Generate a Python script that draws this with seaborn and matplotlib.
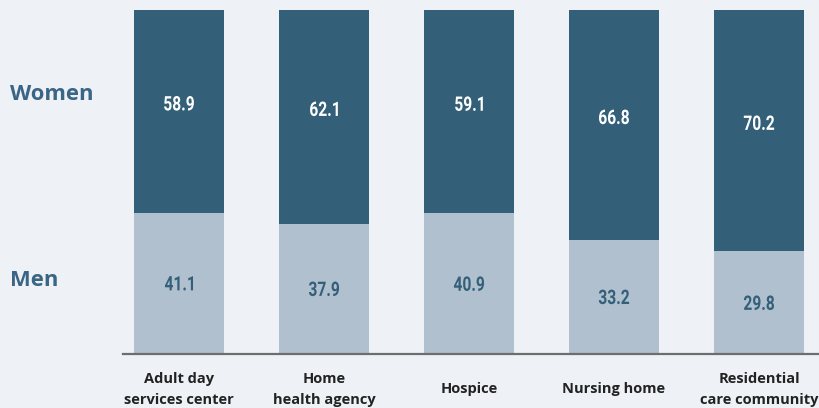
# plot.py
# Caregiver gender by care setting, 100% stacked bars.

import matplotlib
matplotlib.use("Agg")
import matplotlib.pyplot as plt
import matplotlib.transforms as mtrans
from matplotlib.font_manager import FontProperties
from matplotlib.patches import PathPatch
from matplotlib.textpath import TextPath
import pandas as pd
import seaborn as sns

settings = ["Adult day\nservices center", "Home\nhealth agency", "Hospice",
            "Nursing home", "Residential\ncare community"]
women = [58.9, 62.1, 59.1, 66.8, 70.2]
men = [41.1, 37.9, 40.9, 33.2, 29.8]

BG = "#eef2f6"
DARK = "#345f78"
LIGHT = "#b0c0cf"
LABEL_BLUE = "#3a6585"

sns.set_theme(style="white")
plt.rcParams["font.family"] = ["Open Sans", "DejaVu Sans"]

NUM_FONT = FontProperties(family="Roboto", weight="bold")


def condensed_label(ax, x, y, s, color, dy_px=0, size=20, squeeze=0.78):
    """Value label in a narrow face: a text path squeezed horizontally."""
    tp = TextPath((0, 0), s, size=size, prop=NUM_FONT)
    ext = tp.get_extents()
    cx, cy = (ext.x0 + ext.x1) / 2, (ext.y0 + ext.y1) / 2
    px, py = ax.transData.transform((x, y))
    tr = (mtrans.Affine2D().translate(-cx, -cy).scale(squeeze, 1)
          .translate(px, py + dy_px))
    ax.add_artist(PathPatch(tp, transform=tr, facecolor=color, lw=0))


df = pd.DataFrame({"setting": settings, "women": women, "men": men})
df["total"] = df["women"] + df["men"]

fig = plt.figure(figsize=(8.19, 4.08), dpi=100, facecolor=BG)
ax = fig.add_axes([123 / 819, 54 / 408, 696 / 819, 344 / 408])
ax.set_facecolor(BG)

# women on top: draw the full stack first, then men over it
sns.barplot(data=df, x="setting", y="total", color=DARK, width=0.62,
            saturation=1, linewidth=0, edgecolor="none", ax=ax)
sns.barplot(data=df, x="setting", y="men", color=LIGHT, width=0.62,
            saturation=1, linewidth=0, edgecolor="none", ax=ax)

ax.set_xlim(-0.386, 4.414)
ax.set_ylim(0, 100)
ax.set_xlabel("")
ax.set_ylabel("")
ax.set_yticks([])
ax.set_xticklabels([])
ax.tick_params(axis="x", length=0)

for i, row in df.iterrows():
    condensed_label(ax, i, row["men"] + row["women"] / 2,
                    f"{row['women']:.1f}", "white", dy_px=8)
    condensed_label(ax, i, row["men"] / 2, f"{row['men']:.1f}", DARK)

# category names, centred under each bar (one or two lines)
xlab_tr = mtrans.blended_transform_factory(ax.transData, ax.transAxes)
for i, name in enumerate(settings):
    ax.text(i, -0.102, name, transform=xlab_tr, ha="center", va="center",
            fontsize=10.5, fontweight="bold", color="#222222",
            linespacing=1.65, clip_on=False)

for side in ["top", "right", "left"]:
    ax.spines[side].set_visible(False)
ax.spines["bottom"].set_color("#6e6e6e")
ax.spines["bottom"].set_linewidth(1.6)

# side labels for the two series
fig.text(10 / 819, 1 - 94 / 408, "Women", ha="left", va="center",
         color=LABEL_BLUE, fontsize=15.8, fontweight="bold")
fig.text(10 / 819, 1 - 281 / 408, "Men", ha="left", va="center",
         color=LABEL_BLUE, fontsize=15.8, fontweight="bold")

fig.savefig("out.png", dpi=100, facecolor=BG)
